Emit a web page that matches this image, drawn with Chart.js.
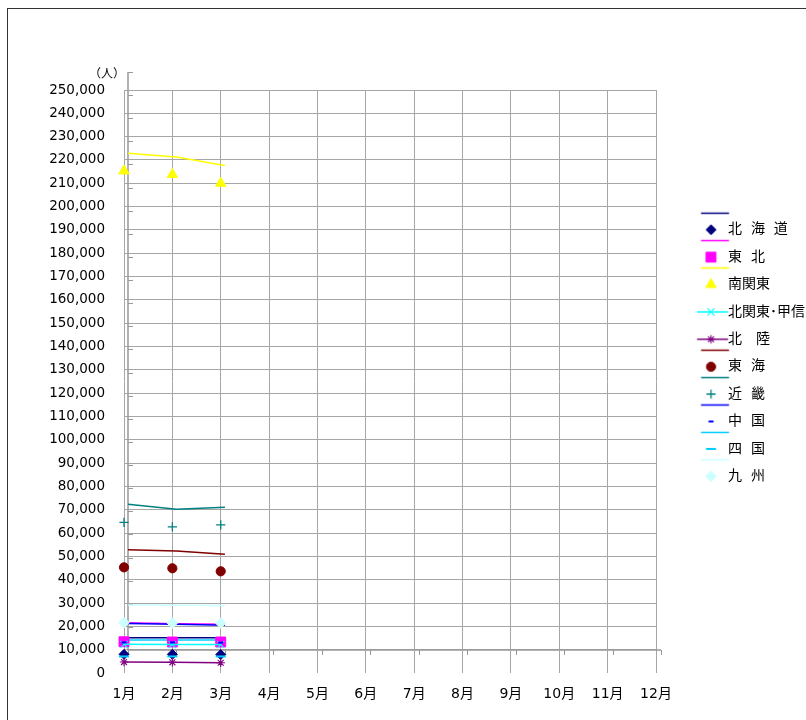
<!DOCTYPE html>
<html><head><meta charset="utf-8">
<script src="https://cdn.jsdelivr.net/npm/chart.js@4.4.1/dist/chart.umd.min.js"></script>
<style>
html,body{margin:0;padding:0;background:#fff;}
#wrap{position:relative;width:806px;height:720px;overflow:hidden;background:#fff;}
#frame{position:absolute;left:7px;top:8px;width:900px;height:900px;border-left:1.5px solid #333;border-top:1.5px solid #333;}
canvas{position:absolute;left:0;top:0;}
</style></head><body>
<div id="wrap"><div id="frame"></div><canvas id="c" width="806" height="720"></canvas></div>
<script>
// ---- categories / labels ----
const MONTHS = ['1月','2月','3月','4月','5月','6月','7月','8月','9月','10月','11月','12月'];
const REGIONS = ['北海道','東北','南関東','北関東･甲信','北陸','東海','近畿','中国','四国','九州'];
const LEGEND_TEXT = ['北  海  道','東  北','南関東','北関東･甲信','北　陸','東  海','近  畿','中  国','四  国','九  州'];
const UNIT_LABEL = '（人）';

// ---- current year (markers, primary axes) ----
const CUR_HOKKAIDO    = [8000, 8000, 7900];
const CUR_TOHOKU      = [13400, 13300, 13300];
const CUR_MINAMIKANTO = [215300, 213800, 210000];
const CUR_KITAKANTO   = [12300, 12200, 12200];
const CUR_HOKURIKU    = [4700, 4600, 4400];
const CUR_TOKAI       = [45300, 44900, 43600];
const CUR_KINKI       = [64600, 62700, 63500];
const CUR_CHUGOKU     = [13100, 13100, 13000];
const CUR_SHIKOKU     = [7100, 7100, 7100];
const CUR_KYUSHU      = [21600, 21400, 21400];

// ---- previous year (lines, secondary axes) ----
const PREV_HOKKAIDO    = [5300, 5300, 5300];
const PREV_TOHOKU      = [11800, 11400, 11100];
const PREV_MINAMIKANTO = [214800, 213200, 209500];
const PREV_TOKAI       = [43400, 42800, 41400];
const PREV_KINKI       = [63000, 60900, 61700];
const PREV_CHUGOKU     = [11500, 11100, 10700];
const PREV_SHIKOKU     = [4300, 4300, 4300];
const PREV_KYUSHU      = [19500, 19400, 19200];

const CURRENT = [CUR_HOKKAIDO, CUR_TOHOKU, CUR_MINAMIKANTO, CUR_KITAKANTO, CUR_HOKURIKU,
                 CUR_TOKAI, CUR_KINKI, CUR_CHUGOKU, CUR_SHIKOKU, CUR_KYUSHU];
const PREVIOUS = [PREV_HOKKAIDO, PREV_TOHOKU, PREV_MINAMIKANTO, null, null,
                  PREV_TOKAI, PREV_KINKI, PREV_CHUGOKU, PREV_SHIKOKU, PREV_KYUSHU];
const CUR_WITH_LINE = [false,false,false,true,true,false,false,false,false,false];

// ---- styles ----
const COLORS = ['#000080','#FF00FF','#FFFF00','#00FFFF','#800080','#800000','#008080','#0000FF','#00CCFF','#CCFFFF'];
const MARKERS = ['rectRot','rect','triangle','crossRot','star','circle','cross','line','line','rectRot'];
const MARKER_RADIUS = [5, 7, 6, 5, 4.2, 4.6, 4.6, 2.5, 5, 5.3];
const MARKER_BORDER = [1, 1, 1, 1.1, 1.1, 1, 1.3, 2, 2, 1];
const GRID_COLOR = '#A6A6A6';
const AXIS_COLOR = '#999999';
const FONT_NUM = '"DejaVu Sans", "Noto Sans CJK JP", sans-serif';

// secondary axis ranges (scale geometry of the original secondary axes)
const Y_MAX = 250000, Y_STEP = 10000;
const Y2_MIN = -9950, Y2_MAX = 242200, Y2_AXIS_TOP = 250000;
const X2_MIN = -0.0825, X2_MAX = 10.896;

function drawMarker(g, i, x, y) {
  g.fillStyle = COLORS[i]; g.strokeStyle = COLORS[i]; g.lineWidth = MARKER_BORDER[i];
  const opts = {pointStyle: MARKERS[i], radius: MARKER_RADIUS[i], borderWidth: MARKER_BORDER[i], rotation: 0};
  if (Chart.helpers && Chart.helpers.drawPoint) Chart.helpers.drawPoint(g, opts, x, y);
  else { g.beginPath(); g.arc(x, y, MARKER_RADIUS[i], 0, Math.PI*2); g.fill(); }
}
function legendImage(i) {
  const c = document.createElement('canvas'); c.width = 80; c.height = 50;
  const g = c.getContext('2d'); const cx = 40, cy = 25;
  g.lineWidth = 1.5;
  if (PREVIOUS[i]) { g.strokeStyle = COLORS[i]; g.beginPath(); g.moveTo(cx+5.8, cy-16.5); g.lineTo(cx+33.8, cy-16.5); g.stroke(); }
  if (CUR_WITH_LINE[i]) { g.strokeStyle = COLORS[i]; g.beginPath(); g.moveTo(cx+1.8, cy); g.lineTo(cx+32.8, cy); g.stroke(); }
  drawMarker(g, i, cx+15.8, cy);
  return c;
}
const LEGEND_IMAGES = REGIONS.map((r, i) => legendImage(i));

const datasets = [];
REGIONS.forEach((r, i) => {
  datasets.push({
    label: r, type: 'line', data: CURRENT[i], xAxisID: 'x', yAxisID: 'y',
    showLine: CUR_WITH_LINE[i], borderColor: COLORS[i], borderWidth: 1.5,
    pointStyle: MARKERS[i], pointRadius: MARKER_RADIUS[i], pointHoverRadius: MARKER_RADIUS[i],
    pointBorderWidth: MARKER_BORDER[i], pointBackgroundColor: COLORS[i], pointBorderColor: COLORS[i],
    order: -i, clip: false
  });
});
REGIONS.forEach((r, i) => {
  if (!PREVIOUS[i]) return;
  datasets.push({
    label: r + '（前年）', type: 'line', data: PREVIOUS[i].map((v, k) => ({x: k, y: v})),
    xAxisID: 'x2', yAxisID: 'y2', borderColor: COLORS[i], borderWidth: 1.5,
    pointRadius: 0, pointHoverRadius: 0, order: 100 - i, clip: false
  });
});

const secondaryAxes = {
  id: 'secondaryAxes',
  beforeDatasetsDraw(chart) {
    const {ctx} = chart; const x2 = chart.scales.x2, y2 = chart.scales.y2;
    const x0 = x2.getPixelForValue(0), x1 = x2.getPixelForValue(MONTHS.length - 1);
    const yb = y2.getPixelForValue(0), yt = y2.getPixelForValue(Y2_AXIS_TOP);
    ctx.save(); ctx.strokeStyle = AXIS_COLOR; ctx.lineWidth = 1.5;
    ctx.beginPath(); ctx.moveTo(x0, yt); ctx.lineTo(x0, yb); ctx.lineTo(x1, yb); ctx.stroke();
    ctx.lineWidth = 1;
    ctx.beginPath();
    for (let v = Y_STEP; v <= Y2_AXIS_TOP; v += Y_STEP) { const p = Math.round(y2.getPixelForValue(v)) + 0.5; ctx.moveTo(x0, p); ctx.lineTo(x0 + 5, p); }
    for (let k = 0; k < MONTHS.length; k++) { const p = Math.round(x2.getPixelForValue(k)) + 0.5; ctx.moveTo(p, yb); ctx.lineTo(p, yb + 5); }
    ctx.stroke(); ctx.restore();
  },
  afterDraw(chart) {
    const {ctx, chartArea} = chart;
    ctx.save(); ctx.font = '12px "Noto Sans CJK JP"'; ctx.fillStyle = '#000';
    ctx.textAlign = 'right'; ctx.textBaseline = 'middle';
    ctx.fillText(UNIT_LABEL, chartArea.left + 1, chartArea.top - 17);
    ctx.restore();
  }
};

new Chart(document.getElementById('c'), {
  type: 'line',
  data: {labels: MONTHS, datasets},
  plugins: [secondaryAxes],
  options: {
    responsive: false, animation: false, devicePixelRatio: 1,
    layout: {padding: {top: 0, left: 0, right: 0, bottom: 14}},
    scales: {
      x: {
        type: 'category', offset: false, position: 'bottom',
        grid: {color: GRID_COLOR, lineWidth: 1, drawTicks: false},
        border: {display: false},
        ticks: {color: '#000', font: {family: FONT_NUM, size: 14}, padding: 13, autoSkip: false, maxRotation: 0},
        afterFit(s) { s.height = 33; }
      },
      y: {
        type: 'linear', min: 0, max: Y_MAX,
        grid: {color: c => c.tick && c.tick.value === 0 ? 'rgba(0,0,0,0)' : GRID_COLOR, lineWidth: 1, drawTicks: false},
        border: {display: false},
        ticks: {stepSize: Y_STEP, autoSkip: false, color: '#000', font: {family: FONT_NUM, size: 13.5}, padding: 19,
                callback: v => Number(v).toLocaleString('en-US')},
        afterFit(s) { s.width = 124; }
      },
      x2: {
        type: 'linear', position: 'top', min: X2_MIN, max: X2_MAX,
        grid: {display: false, drawTicks: false}, border: {display: false}, ticks: {display: false},
        afterFit(s) { s.height = 90; }
      },
      y2: {type: 'linear', display: false, min: Y2_MIN, max: Y2_MAX}
    },
    plugins: {
      tooltip: {enabled: false},
      legend: {
        position: 'right', align: 'center', maxWidth: 150, onClick: null,
        labels: {
          usePointStyle: true, pointStyleWidth: 51.6, padding: 13.4, color: '#000',
          font: {family: FONT_NUM, size: 14},
          generateLabels: () => REGIONS.map((r, i) => ({
            text: LEGEND_TEXT[i], fillStyle: COLORS[i], strokeStyle: COLORS[i], lineWidth: 0,
            pointStyle: LEGEND_IMAGES[i], hidden: false, textAlign: 'left', fontColor: '#000', datasetIndex: i
          }))
        }
      }
    }
  }
});
</script>
</body></html>
